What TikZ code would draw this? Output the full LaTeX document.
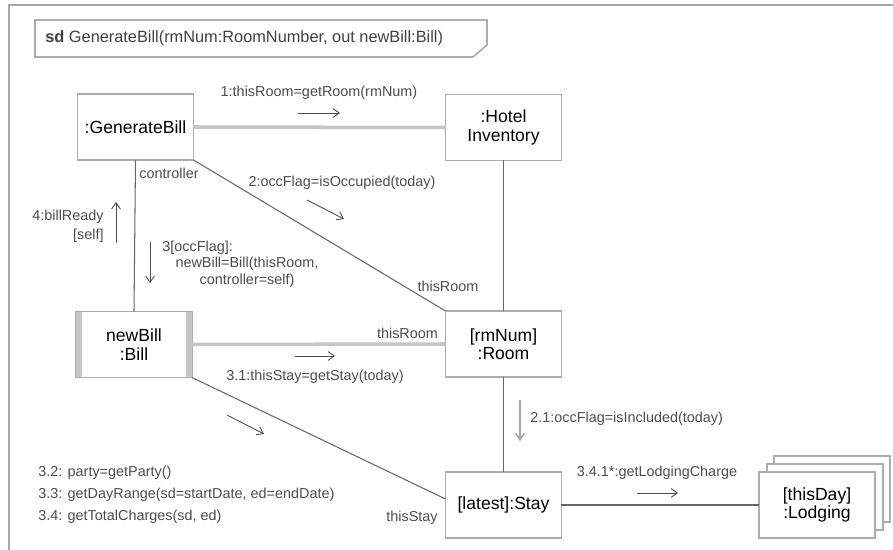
\documentclass[tikz,border=0pt]{standalone}
\usepackage{fontspec}
\setmainfont{Liberation Sans}
\usetikzlibrary{calc, backgrounds, arrows.meta}

\begin{document}
\begin{tikzpicture}[x=0.02cm, y=-0.02cm,
  obj/.style={draw=gray!65, line width=1.1pt, fill=white, minimum width=2.32cm,
    minimum height=1.32cm, inner sep=0pt, outer sep=0pt, align=center,
    font=\fontsize{10}{10.5}\selectfont},
  link/.style={draw=black!60, line width=0.6pt},
  biglink/.style={draw=gray!45, line width=2pt},
  msg/.style={font=\fontsize{8.2}{10}\selectfont, text=black!70, inner sep=0pt},
  msgarrow/.style={-{Straight Barb[length=3.5pt, width=5pt]}, draw=black!70, line width=0.5pt}]

  \useasboundingbox (0,0) rectangle (893,550);

  % --- frame and its name tab ---
  \draw[gray!70, line width=1pt] (9,560) -- (9,5) -- (900,5);
  \draw[gray!65, line width=0.9pt] (35,20) -- (487,20) -- (487,45) -- (473,57) -- (35,57) -- cycle;
  \node[font=\fontsize{9.3}{11}\selectfont, anchor=west, inner sep=0pt, text=black!75] (title) at (45,38)
    {\textbf{sd} GenerateBill(rmNum:RoomNumber, out newBill:Bill)};

  % --- objects ---
  \node[obj] (gb) at (135.5,127) {:GenerateBill};
  \node[obj] (hi) at (503.5,127.5) {:Hotel\\Inventory};
  \node[obj] (rm) at (503.5,344) {[rmNum]\\:Room};
  \node[obj] (nb) at (134,344.5) {newBill\\:Bill};
  \node[obj] (st) at (503.5,505) {[latest]:Stay};
  \node[obj] (lg) at (817,505) {[thisDay]\\:Lodging};

  % active object bars
  \fill[gray!45] (nb.north west) rectangle ($(nb.south west)+(6,0)$);
  \fill[gray!45] ($(nb.north east)+(-6,0)$) rectangle (nb.south east);

  % multi-object copies
  \begin{scope}[on background layer]
    \draw[draw=gray!65, line width=1.1pt, fill=white] ($(lg.north west)+(15,-16)$) rectangle ($(lg.south east)+(15,-16)$);
    \draw[draw=gray!65, line width=1.1pt, fill=white] ($(lg.north west)+(8,-8)$) rectangle ($(lg.south east)+(8,-8)$);
  \end{scope}

  % --- links ---
  \draw[biglink] (gb.east) -- (hi.west);
  \draw[link] (gb.south east) -- (rm.north west);
  \draw[link] (gb.south) -- (nb.north);
  \draw[link] (hi.south) -- (rm.north);
  \draw[biglink] (nb.east) -- (rm.west);
  \draw[link] (nb.south east) -- ($(st.west)+(0,-6)$);
  \draw[link] (rm.south) -- (st.north);
  \draw[link] (st.east) -- (lg.west);

  % --- messages ---
  \node[msg] (m1) at (319,93) {1:thisRoom=getRoom(rmNum)};
  \draw[msgarrow] (298,113) -- (340,113);

  \node[msg] (m2) at (342,183) {2:occFlag=isOccupied(today)};
  \draw[msgarrow] (307,200) -- (344,219);

  \node[msg, anchor=west] (ctrl) at (139,173) {controller};

  \node[msg, anchor=east, align=right, font=\fontsize{8.2}{10.8}\selectfont] (m4) at (104,226) {4:billReady\\{}[self]};
  \draw[msgarrow] (116,243) -- (116,202);

  \node[msg, anchor=west] (m3) at (162,248) {3[occFlag]:};
  \node[msg, align=center, font=\fontsize{8.2}{9.7}\selectfont] (m3b) at (247,272.5) {newBill=Bill(thisRoom,\\controller=self)};
  \draw[msgarrow] (150,242) -- (150,283);

  \node[msg] (roleA) at (448,286) {thisRoom};
  \node[msg] (roleB) at (407.5,333) {thisRoom};

  \draw[msgarrow] (295,356) -- (335,356);
  \node[msg] (m31) at (315,377) {3.1:thisStay=getStay(today)};

  \draw[msgarrow] (227,415) -- (264,434);

  \node[msg, anchor=west, align=left, font=\fontsize{8.2}{12.5}\selectfont] (notes) at (38,495)
    {3.2: party=getParty()\\3.3: getDayRange(sd=startDate, ed=endDate)\\3.4: getTotalCharges(sd, ed)};

  \node[msg] (roleC) at (412,518) {thisStay};

  \draw[msgarrow, draw=gray!70, line width=1pt] (520,400) -- (520,441);
  \node[msg, anchor=west] (m21) at (530,419) {2.1:occFlag=isIncluded(today)};

  \node[msg] (m341) at (657,473) {3.4.1*:getLodgingCharge};
  \draw[msgarrow] (637,493) -- (678,493);

\end{tikzpicture}
\end{document}
